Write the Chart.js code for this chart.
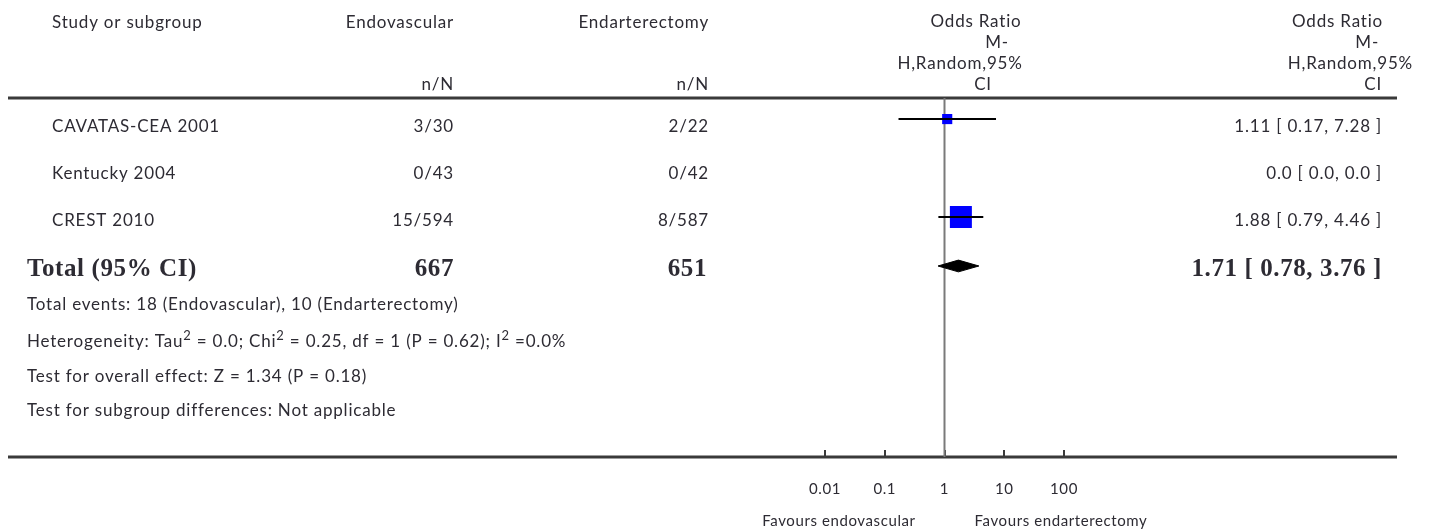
<!DOCTYPE html>
<html>
<head>
<meta charset="utf-8">
<script src="https://cdn.jsdelivr.net/npm/chart.js@4.4.0/dist/chart.umd.min.js"></script>
<style>
  html, body { margin: 0; padding: 0; background: #fff; }
  canvas { display: block; }
</style>
</head>
<body>
<canvas id="forest" width="1429" height="529"></canvas>
<script>
// study rows
const studies = ['CAVATAS-CEA 2001', 'Kentucky 2004', 'CREST 2010'];
const endoEvents = [3, 0, 15];
const endoTotal = [30, 43, 594];
const endaEvents = [2, 0, 8];
const endaTotal = [22, 42, 587];
const oddsRatio = [1.11, 0.0, 1.88];
const ciLow = [0.17, 0.0, 0.79];
const ciHigh = [7.28, 0.0, 4.46];

// pooled result
const totalOR = 1.71;
const totalLow = 0.78;
const totalHigh = 3.76;

// bottom axis
const tickValues = [0.01, 0.1, 1, 10, 100];
const tickLabels = ['0.01', '0.1', '1', '10', '100'];

const INK = '#2d2b33';
const SANS = 'Lato, "Open Sans", sans-serif';
const SERIF = '"Liberation Serif", "DejaVu Serif", serif';

// row index on the y scale: studies 1..3, total 4
const totalRow = studies.length + 1;
const estimable = oddsRatio.map((v, i) => v > 0 && ciLow[i] > 0);

// square side follows inverse-variance weight
const weights = ciLow.map((lo, i) => {
    if (!estimable[i]) return 0;
    let se = (Math.log(ciHigh[i]) - Math.log(lo)) / 3.92;
    return 1 / (se * se);
});
const maxWeight = Math.max(...weights);

let fmt2 = v => v.toFixed(v === 0 ? 1 : 2);
let sum = arr => arr.reduce((a, b) => a + b, 0);

// whiskers, one dataset per study
let ciSets = [];
studies.forEach((s, i) => {
    if (!estimable[i]) return;
    ciSets.push({
        data: [{x: ciLow[i], y: i + 1}, {x: ciHigh[i], y: i + 1}],
        borderColor: '#000',
        borderWidth: 2,
        pointRadius: 0,
        order: 0
    });
});

let squarePoints = [];
let squareWeights = [];
studies.forEach((s, i) => {
    if (!estimable[i]) return;
    squarePoints.push({x: oddsRatio[i], y: i + 1});
    squareWeights.push(weights[i]);
});

const diamondHalf = 0.12;

const forestText = {
    id: 'forestText',
    beforeDatasetsDraw(chart) {
        const ctx = chart.ctx;
        const area = chart.chartArea;
        const xs = chart.scales.x;
        ctx.save();
        ctx.strokeStyle = '#3a3a3a';
        ctx.lineWidth = 3;
        ctx.beginPath();
        ctx.moveTo(8, area.top);
        ctx.lineTo(1397, area.top);
        ctx.moveTo(8, area.bottom);
        ctx.lineTo(1397, area.bottom);
        ctx.stroke();

        ctx.lineWidth = 2;
        ctx.beginPath();
        tickValues.forEach(v => {
            let px = Math.round(xs.getPixelForValue(v));
            ctx.moveTo(px, area.bottom - 7);
            ctx.lineTo(px, area.bottom);
        });
        ctx.stroke();
        ctx.restore();
    },
    afterDatasetsDraw(chart) {
        const ctx = chart.ctx;
        const xs = chart.scales.x;
        ctx.save();
        ctx.fillStyle = INK;
        ctx.textBaseline = 'middle';

        let put = (str, x, y, align, font, spacing) => {
            ctx.font = font;
            ctx.letterSpacing = (spacing || 0) + 'px';
            ctx.textAlign = align;
            ctx.fillText(str, x, y);
        };
        const f = '17px ' + SANS;
        const sp = 0.8;
        const fb = 'bold 25px ' + SERIF;
        const spb = 0.6;

        // header
        put('Study or subgroup', 52, 23, 'left', f, sp);
        put('Endovascular', 454, 23, 'right', f, sp);
        put('Endarterectomy', 709, 23, 'right', f, sp);
        put('n/N', 454, 85, 'right', f, sp);
        put('n/N', 709, 85, 'right', f, sp);
        put('Odds Ratio', 976, 22, 'center', f, sp);
        put('M-', 997, 43, 'center', f, sp);
        put('H,Random,95%', 960, 64, 'center', f, sp);
        put('CI', 983, 85, 'center', f, sp);
        put('Odds Ratio', 1383, 22, 'right', f, sp);
        put('M-', 1379, 43, 'right', f, sp);
        put('H,Random,95%', 1413, 64, 'right', f, sp);
        put('CI', 1382, 85, 'right', f, sp);

        // study rows
        const rowY = [127, 174, 221];
        studies.forEach((s, i) => {
            put(s, 52, rowY[i], 'left', f, sp);
            put(endoEvents[i] + '/' + endoTotal[i], 454, rowY[i], 'right', f, sp);
            put(endaEvents[i] + '/' + endaTotal[i], 709, rowY[i], 'right', f, sp);
            put(fmt2(oddsRatio[i]) + ' [ ' + fmt2(ciLow[i]) + ', ' + fmt2(ciHigh[i]) + ' ]',
                1382, rowY[i], 'right', f, sp);
        });

        // total row
        put('Total (95% CI)', 27, 270, 'left', fb, spb);
        put(String(sum(endoTotal)), 454, 270, 'right', fb, spb);
        put(String(sum(endaTotal)), 707, 270, 'right', fb, spb);
        put(totalOR.toFixed(2) + ' [ ' + totalLow.toFixed(2) + ', ' + totalHigh.toFixed(2) + ' ]',
            1382, 270, 'right', fb, spb);

        // footnotes
        let rich = (parts, x, y) => {
            ctx.textAlign = 'left';
            ctx.letterSpacing = sp + 'px';
            parts.forEach(([str, sup]) => {
                ctx.font = sup ? '13px ' + SANS : f;
                ctx.fillText(str, x, sup ? y - 6 : y);
                x += ctx.measureText(str).width;
            });
        };
        put('Total events: ' + sum(endoEvents) + ' (Endovascular), ' + sum(endaEvents) + ' (Endarterectomy)',
            27, 305, 'left', f, sp);
        rich([['Heterogeneity: Tau', 0], ['2', 1], [' = 0.0; Chi', 0], ['2', 1],
              [' = 0.25, df = 1 (P = 0.62); I', 0], ['2', 1], [' =0.0%', 0]], 27, 342);
        put('Test for overall effect: Z = 1.34 (P = 0.18)', 27, 377, 'left', f, sp);
        put('Test for subgroup differences: Not applicable', 27, 411, 'left', f, sp);

        // axis labels
        const fs = '15px ' + SANS;
        tickValues.forEach((v, i) => put(tickLabels[i], xs.getPixelForValue(v), 489, 'center', fs, 0.6));
        put('Favours endovascular', 839, 521, 'center', fs, 0.6);
        put('Favours endarterectomy', 1061, 521, 'center', fs, 0.6);
        ctx.restore();
    }
};

const yMin = 0.57, yMax = 7.9;

new Chart(document.getElementById('forest'), {
    type: 'line',
    data: {
        datasets: [
            ...ciSets,
            {
                data: squarePoints,
                showLine: false,
                pointStyle: 'rect',
                pointRadius: c => 22 * Math.sqrt(squareWeights[c.dataIndex] / maxWeight) / Math.SQRT2,
                pointBackgroundColor: '#0000ff',
                pointBorderWidth: 0,
                order: 1
            },
            {
                data: [
                    {x: totalLow, y: totalRow},
                    {x: totalOR, y: totalRow - diamondHalf},
                    {x: totalHigh, y: totalRow},
                    {x: totalOR, y: totalRow + diamondHalf},
                    {x: totalLow, y: totalRow}
                ],
                borderColor: '#000',
                borderWidth: 1,
                backgroundColor: '#000',
                fill: 'shape',
                pointRadius: 0,
                tension: 0,
                order: 0
            },
            {
                data: [{x: 1, y: yMin}, {x: 1, y: yMax}],
                borderColor: '#7a7a7a',
                borderWidth: 2,
                pointRadius: 0,
                order: 2
            }
        ]
    },
    options: {
        responsive: false,
        animation: false,
        devicePixelRatio: 1,
        layout: { padding: { left: 825, right: 365, top: 98, bottom: 72 } },
        scales: {
            x: { type: 'logarithmic', min: 0.01, max: 100, display: false },
            y: { type: 'linear', min: yMin, max: yMax, reverse: true, display: false }
        },
        plugins: {
            legend: { display: false },
            tooltip: { enabled: false }
        }
    },
    plugins: [forestText]
});
</script>
</body>
</html>
